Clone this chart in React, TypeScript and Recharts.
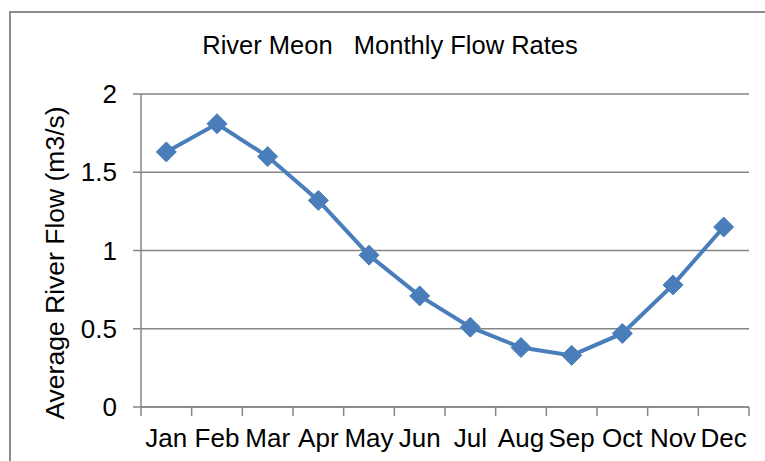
import React from 'react'
import { LineChart, Line, XAxis, YAxis, CartesianGrid } from 'recharts'

const months = ['Jan', 'Feb', 'Mar', 'Apr', 'May', 'Jun', 'Jul', 'Aug', 'Sep', 'Oct', 'Nov', 'Dec']
const flow = [1.63, 1.81, 1.6, 1.32, 0.97, 0.71, 0.51, 0.38, 0.33, 0.47, 0.78, 1.15]
const yTicks = [0, 0.5, 1, 1.5, 2]
const bandTicks = [0, 1, 2, 3, 4, 5, 6, 7, 8, 9, 10, 11, 12]

const title = 'River Meon   Monthly Flow Rates'
const yTitle = 'Average River Flow (m3/s)'

const data = months.map((m, i) => ({ month: m, flow: flow[i] }))

const FONT = '"Liberation Sans", Arial, sans-serif'
const GRID = '#868686'
const BLUE = '#4a7ebb'

const Diamond = (props: any) => {
  const { cx, cy } = props
  if (cx == null || cy == null) return null
  const r = 10
  return (
    <path
      d={`M${cx},${cy - r}L${cx + r},${cy}L${cx},${cy + r}L${cx - r},${cy}Z`}
      fill={BLUE}
      stroke={BLUE}
      strokeWidth={1}
    />
  )
}

export default function App() {
  return (
    <div style={{ position: 'absolute', left: 0, top: 0, width: 765, height: 461, overflow: 'hidden', background: '#fff' }}>
      <div style={{ position: 'absolute', left: 9, top: 11, width: 800, height: 500, border: '2px solid #8c8c8c', boxSizing: 'border-box' }} />
      <div style={{ position: 'absolute', left: 0, top: 0 }}>
        <LineChart width={765} height={461} data={data} margin={{ top: 94, right: 16, bottom: 0, left: 0 }}>
          <CartesianGrid vertical={false} stroke={GRID} strokeWidth={1.5} />
          {/* boundary tick marks between months */}
          <XAxis
            type="number"
            dataKey="idx"
            domain={[0, 12]}
            ticks={bandTicks}
            tickFormatter={() => ''}
            tickSize={9}
            height={1}
            stroke={GRID}
            strokeWidth={1.5}
            allowDataOverflow
          />
          <XAxis
            xAxisId="labels"
            dataKey="month"
            scale="band"
            height={53}
            axisLine={false}
            tickLine={false}
            tickSize={0}
            tickMargin={21}
            interval={0}
            tick={{ fill: '#000', fontSize: 26, fontFamily: FONT }}
          />
          <YAxis
            width={141}
            domain={[0, 2]}
            ticks={yTicks}
            tickSize={8}
            tickMargin={16}
            stroke={GRID}
            strokeWidth={1.5}
            tick={{ fill: '#000', fontSize: 26, fontFamily: FONT }}
          />
          <Line
            xAxisId="labels"
            dataKey="flow"
            stroke={BLUE}
            strokeWidth={4}
            dot={<Diamond />}
            isAnimationActive={false}
          />
        </LineChart>
      </div>
      <svg width={765} height={461} style={{ position: 'absolute', left: 0, top: 0, pointerEvents: 'none' }}>
        <text x={390} y={54} textAnchor="middle" fontSize={25.5} fontFamily={FONT} fill="#000" style={{ whiteSpace: 'pre' }}>
          {title}
        </text>
        <text transform="translate(64,263) rotate(-90)" textAnchor="middle" fontSize={26.5} fontFamily={FONT} fill="#000">
          {yTitle}
        </text>
      </svg>
    </div>
  )
}
